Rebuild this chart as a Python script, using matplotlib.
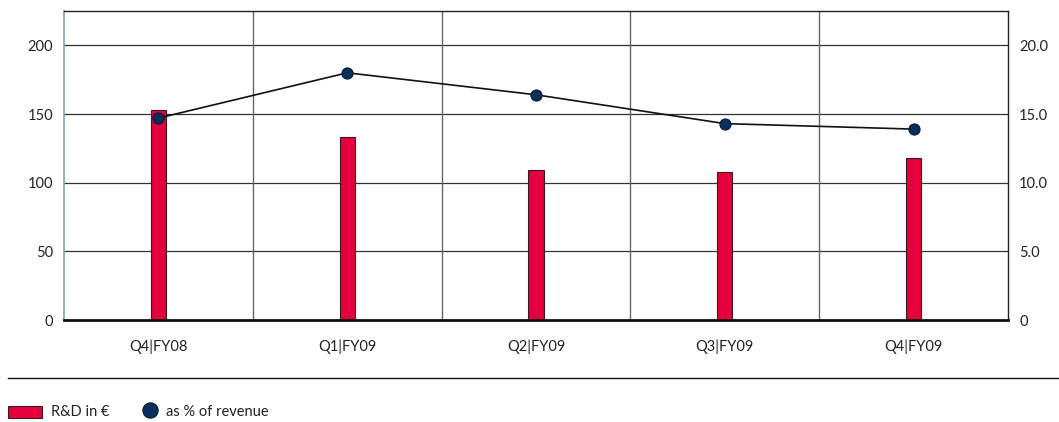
import matplotlib
matplotlib.use("Agg")
import matplotlib.pyplot as plt
from matplotlib.patches import Rectangle
from matplotlib.lines import Line2D
import numpy as np

categories = ["Q4|FY08", "Q1|FY09", "Q2|FY09", "Q3|FY09", "Q4|FY09"]
rd_eur = [153, 133, 109, 108, 118]
pct_revenue = [14.7, 18.0, 16.4, 14.3, 13.9]
left_ticks = [0, 50, 100, 150, 200]
left_labels = ["0", "50", "100", "150", "200"]
right_ticks = [0, 5, 10, 15, 20]
right_labels = ["0", "5.0", "10.0", "15.0", "20.0"]

plt.rcParams["font.family"] = ["Lato", "DejaVu Sans"]

W, H = 1059, 422
FS = 10.5
fig = plt.figure(figsize=(W / 100, H / 100), dpi=100)
ax = fig.add_axes([64 / W, 1 - 320 / H, (1008 - 64) / W, (320 - 11) / H])

x = np.arange(len(categories))
ax.bar(x, rd_eur, width=0.08, color="#e4003d", edgecolor="#3a1a20", linewidth=0.8, zorder=3)
ax.set_xlim(-0.5, len(categories) - 0.5)
ax.set_ylim(0, 225)
ax.set_yticks(left_ticks)
ax.set_yticklabels(left_labels)

for yv in left_ticks[1:]:
    ax.axhline(yv, color="#333333", linewidth=0.9, zorder=1)
for xv in np.arange(0.5, len(categories) - 0.5, 1):
    ax.axvline(xv, color="#666666", linewidth=1.0, zorder=1)

ax.set_xticks(x)
ax.set_xticklabels(categories)
ax.tick_params(axis="x", length=0, pad=14, labelsize=FS, colors="#222222")
ax.tick_params(axis="y", length=0, pad=8, labelsize=FS, colors="#222222")

ax.spines["left"].set_color("#8a9cb4")
ax.spines["left"].set_linewidth(1.2)
ax.spines["bottom"].set_color("#111111")
ax.spines["bottom"].set_linewidth(2.0)
ax.spines["bottom"].set_zorder(5)
ax.spines["top"].set_color("#222222")
ax.spines["top"].set_linewidth(1.0)
ax.spines["right"].set_color("#222222")
ax.spines["right"].set_linewidth(1.0)

ax2 = ax.twinx()
ax2.plot(x, pct_revenue, color="#111111", linewidth=1.2, marker="o", markersize=8,
         markerfacecolor="#06305c", markeredgecolor="#0a1a2e", markeredgewidth=0.8, zorder=4)
ax2.set_ylim(0, 22.5)
ax2.set_yticks(right_ticks)
ax2.set_yticklabels(right_labels)
ax2.tick_params(axis="y", length=0, pad=8, labelsize=FS, colors="#222222")
for s in ax2.spines.values():
    s.set_visible(False)

# separator rule above the legend
fig.add_artist(Line2D([8 / W, 1.0], [1 - 378 / H, 1 - 378 / H], color="#111111", linewidth=1.0))

# legend row
fig.add_artist(Rectangle((8 / W, 1 - 418 / H), 34 / W, 12 / H, facecolor="#e4003d",
                         edgecolor="#3a1a20", linewidth=0.8))
fig.text(51 / W, 1 - 412 / H, "R&D in €", fontsize=FS, va="center", ha="left", color="#222222")
fig.add_artist(Line2D([150 / W], [1 - 410 / H], marker="o", markersize=11,
                      markerfacecolor="#06305c", markeredgecolor="#0a1a2e", markeredgewidth=0.8))
fig.text(166 / W, 1 - 412 / H, "as % of revenue", fontsize=FS, va="center", ha="left", color="#222222")

fig.savefig("out.png", dpi=100)
